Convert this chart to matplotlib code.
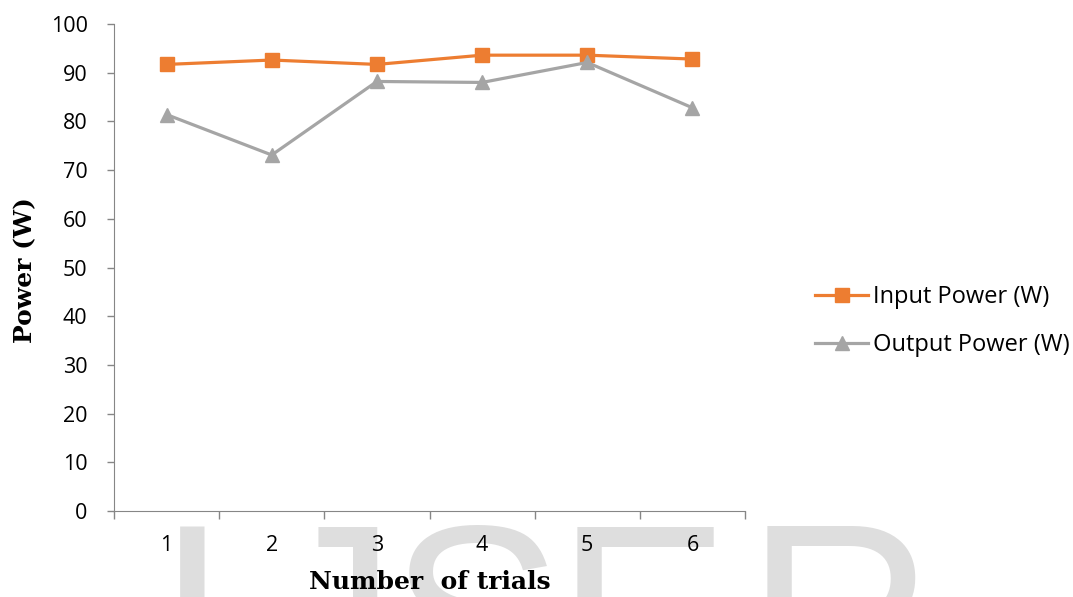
import matplotlib.pyplot as plt

# trial data
trials = [1, 2, 3, 4, 5, 6]
input_power = [91.7, 92.6, 91.7, 93.6, 93.6, 92.8]
output_power = [81.4, 73.1, 88.2, 88.0, 92.1, 82.8]

# watermark letters and their left edges (figure pixels)
mark_letters = ['I', 'J', 'S', 'E', 'R']
mark_x = [156, 266, 388, 556, 746]

W, H = 1073, 597
fig = plt.figure(figsize=(W / 100, H / 100), dpi=100)

# light background watermark, drawn below the axes
for ch, xp in zip(mark_letters, mark_x):
    fig.text(xp / W, (H - 707) / H, ch, fontsize=188, color='#dedede',
             family='Liberation Sans', ha='left', va='baseline', zorder=-1)

ax = fig.add_axes([114 / W, (H - 511) / H, 631 / W, 487 / H])
ax.patch.set_alpha(0)

ax.plot(trials, input_power, color='#ED7D31', lw=2.3, marker='s', ms=10,
        label='Input Power (W)', zorder=3)
ax.plot(trials, output_power, color='#A5A5A5', lw=2.3, marker='^', ms=10,
        label='Output Power (W)', zorder=3)

ax.set_xlim(0.5, 6.5)
ax.set_ylim(0, 100)
ax.set_yticks(range(0, 101, 10))

# category boundaries get the tick marks, labels sit at the centers
ax.set_xticks([i + 0.5 for i in range(0, 7)])
ax.set_xticklabels([])
ax.set_xticks(trials, minor=True)
ax.set_xticklabels([str(t) for t in trials], minor=True)
ax.tick_params(axis='x', which='major', length=6, color='#868686', width=1)
ax.tick_params(axis='x', which='minor', length=0, pad=17)

ax.tick_params(axis='y', length=5, color='#868686', width=1, pad=14)
for lbl in ax.get_yticklabels() + ax.get_xticklabels(minor=True):
    lbl.set_fontfamily('Open Sans')
    lbl.set_fontsize(15.5)

for s in ['top', 'right']:
    ax.spines[s].set_visible(False)
for s in ['left', 'bottom']:
    ax.spines[s].set_color('#868686')

fig.text(25 / W, (H - 270) / H, 'Power (W)', rotation=90, family='DejaVu Serif',
         fontweight='bold', fontsize=18, ha='center', va='center')
fig.text(430 / W, (H - 582) / H, 'Number  of trials', family='DejaVu Serif',
         fontweight='bold', fontsize=18, ha='center', va='center')

fig.legend(loc='center left', bbox_to_anchor=(815 / W, (H - 321) / H),
           frameon=False, prop={'family': 'Open Sans', 'size': 17},
           handlelength=2.25, handletextpad=0.2, labelspacing=1.0,
           borderpad=0, borderaxespad=0)

fig.savefig('out.png', dpi=100)
